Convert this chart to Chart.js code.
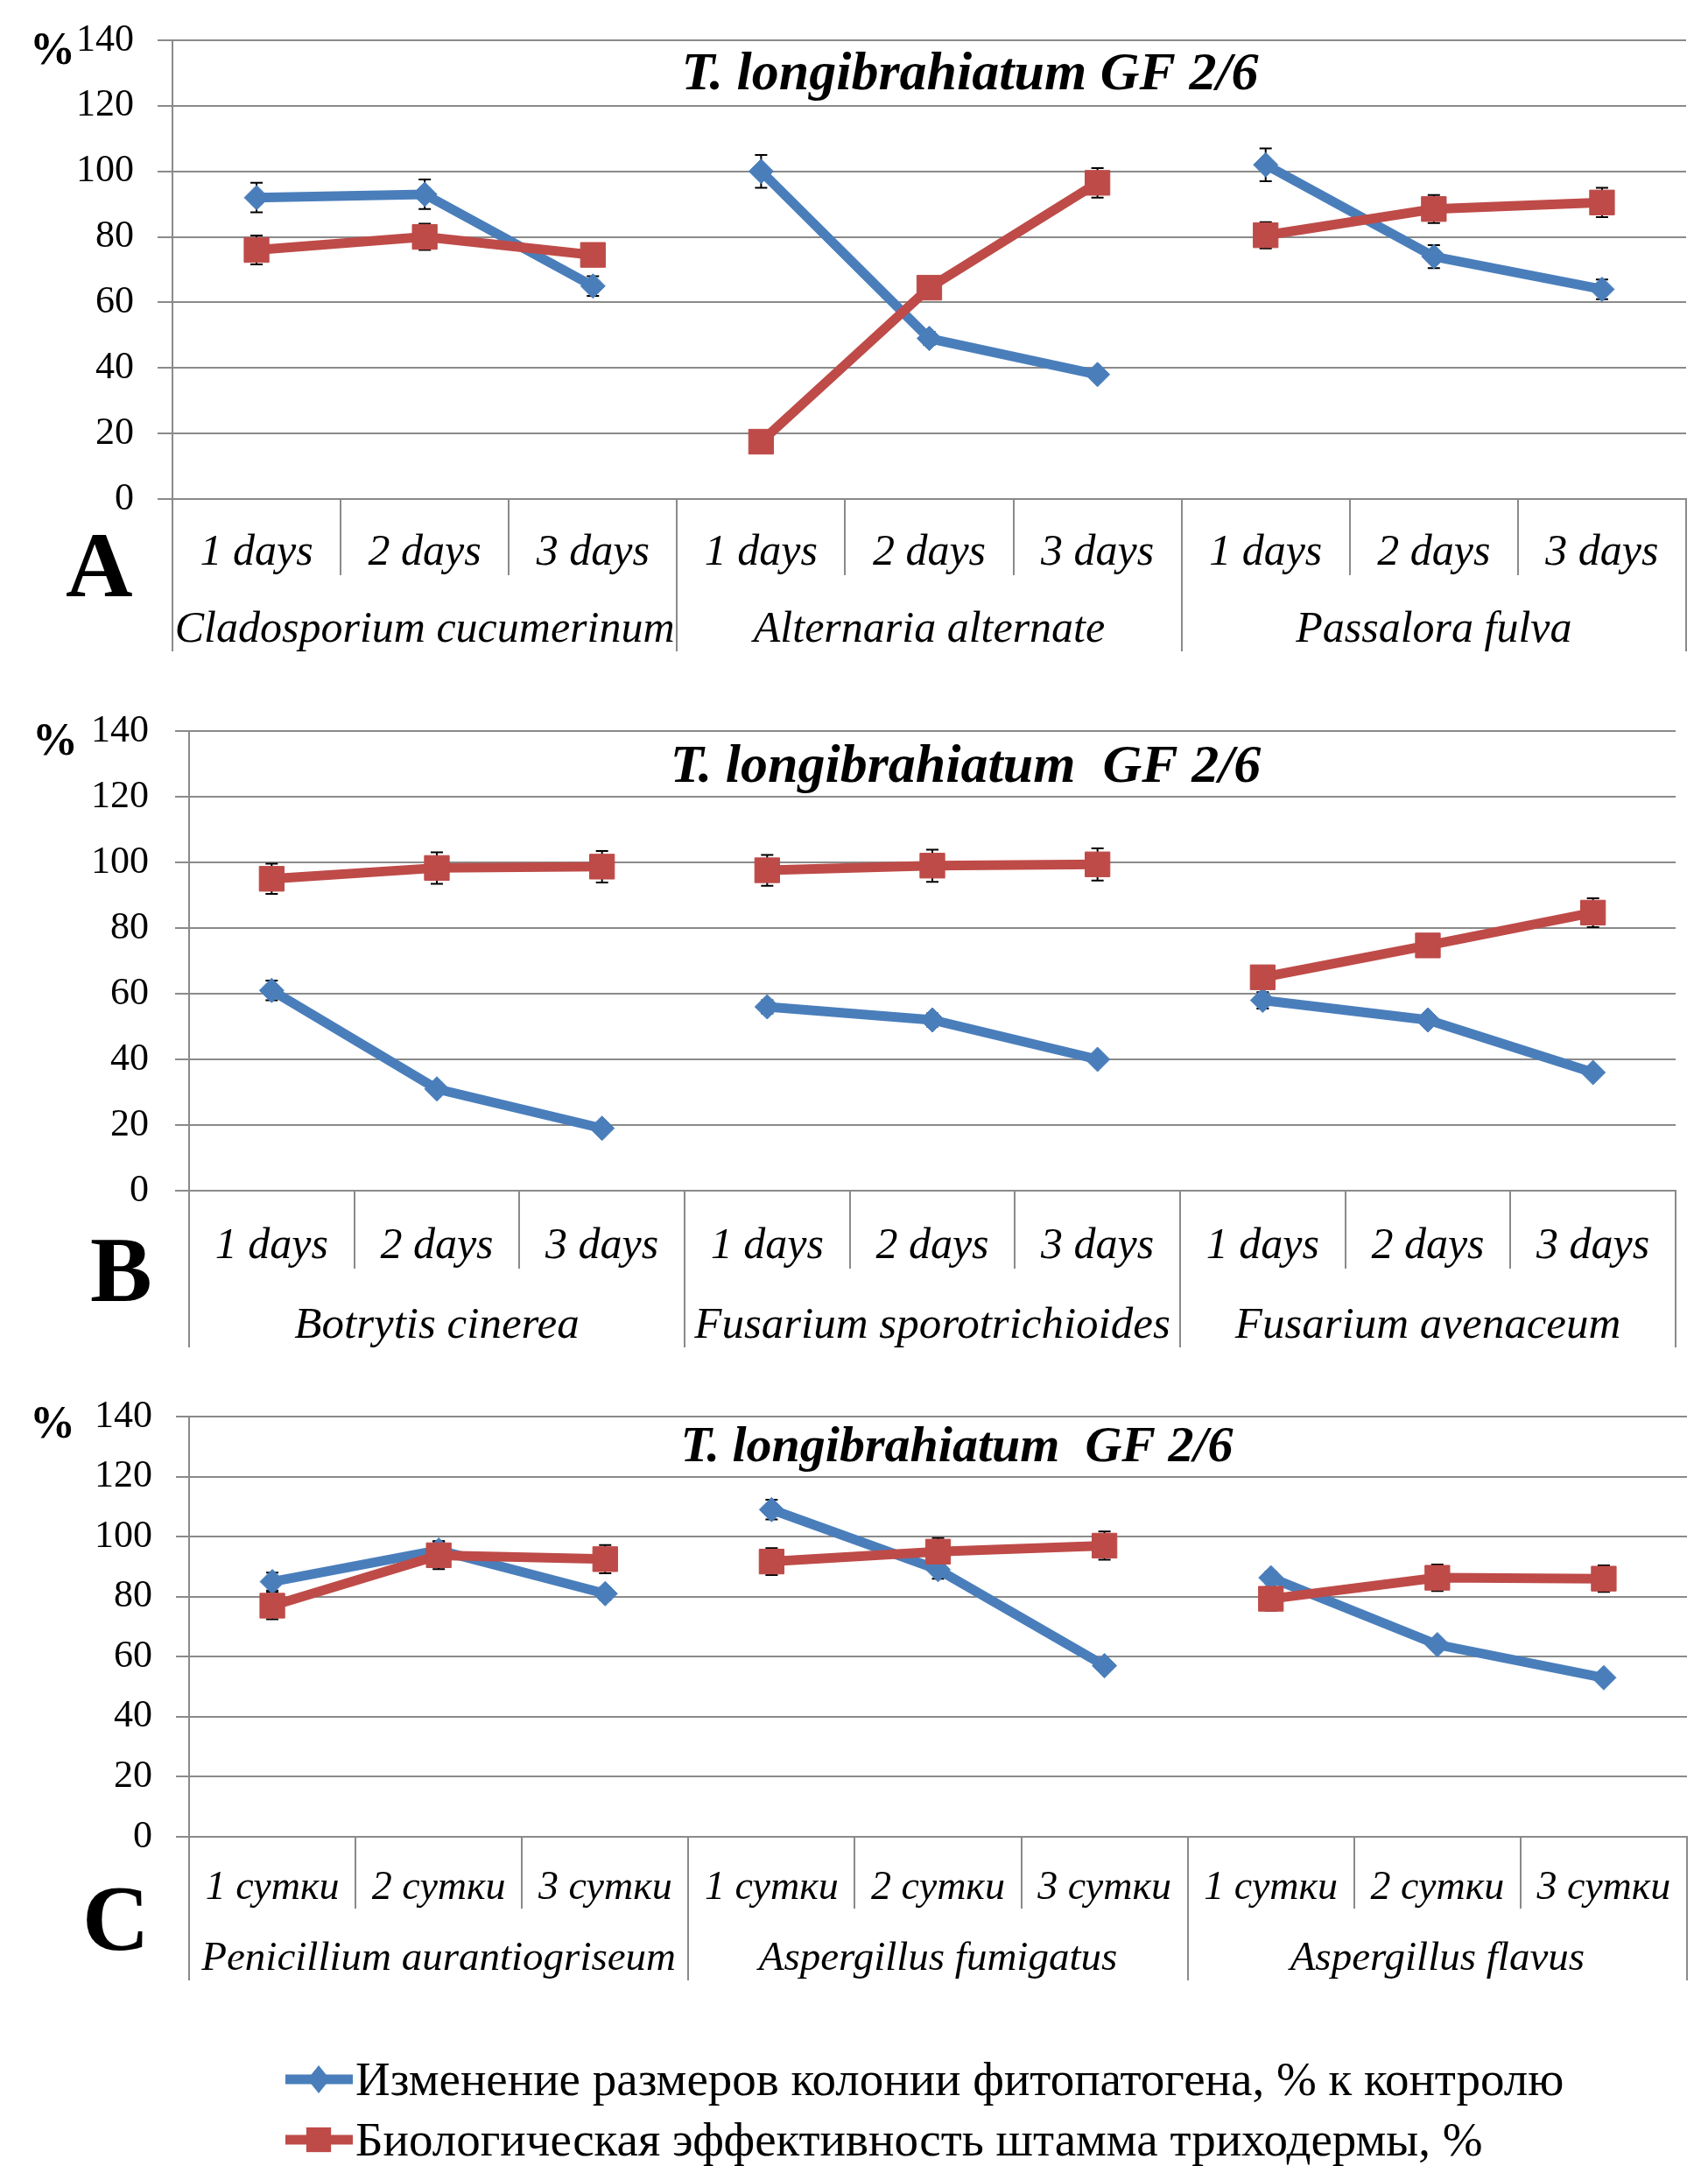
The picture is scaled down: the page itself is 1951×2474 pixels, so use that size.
<!DOCTYPE html>
<html>
<head>
<meta charset="utf-8">
<script src="https://cdn.jsdelivr.net/npm/chart.js@4.4.1/dist/chart.umd.min.js"></script>
<style>
  html, body { margin: 0; padding: 0; background: #fff; }
  body { width: 1951px; height: 2474px; position: relative; overflow: hidden;
         font-family: "Liberation Serif", "Times New Roman", serif; }
  .panel { position: absolute; left: 0; width: 1951px; }
  #legend { position: absolute; left: 326px; top: 2340px; }
  .item { display: flex; align-items: center; height: 69px; font-size: 55px; white-space: nowrap; color: #000; }
  .item canvas { margin-right: 3px; }
</style>
</head>
<body>
<div class="panel" style="top:0;height:770px"><canvas id="chartA"></canvas></div>
<div class="panel" style="top:780px;height:780px"><canvas id="chartB"></canvas></div>
<div class="panel" style="top:1580px;height:700px"><canvas id="chartC"></canvas></div>
<div id="legend"></div>
<script>
// данные
const seriesNames = [
    'Изменение размеров колонии фитопатогена, % к контролю',
    'Биологическая эффективность штамма триходермы, %'
];
const yTicks = [0, 20, 40, 60, 80, 100, 120, 140];

const daysLabels = ['1 days', '2 days', '3 days', '1 days', '2 days', '3 days', '1 days', '2 days', '3 days'];
const sutkiLabels = ['1 сутки', '2 сутки', '3 сутки', '1 сутки', '2 сутки', '3 сутки', '1 сутки', '2 сутки', '3 сутки'];

// A
const groupsA = ['Cladosporium cucumerinum', 'Alternaria alternate', 'Passalora fulva'];
const colonyA = [92, 93, 65, 100, 49, 38, 102, 74, 64];
const colonyErrA = [4.5, 4.5, 3, 5, 2, 1, 5, 3.5, 3];
const effA = [76, 80, 74.5, 17.5, 64.5, 96.5, 80.5, 88.5, 90.5];
const effErrA = [4.4, 4, 3, 2, 3, 4.5, 4, 4.3, 4.5];

// B
const groupsB = ['Botrytis cinerea', 'Fusarium sporotrichioides', 'Fusarium avenaceum'];
const colonyB = [61, 31, 19, 56, 52, 40, 58, 52, 36];
const colonyErrB = [3, 1.5, 1, 2, 2, 1, 2.5, 1.5, 1];
const effB = [95, 98.3, 98.7, 97.6, 99, 99.4, 65, 74.7, 84.7];
const effErrB = [4.6, 4.8, 4.8, 4.7, 4.9, 4.9, 3, 3, 4.4];

// C
const groupsC = ['Penicillium aurantiogriseum', 'Aspergillus fumigatus', 'Aspergillus flavus'];
const colonyC = [85, 95.5, 81, 109, 89, 57, 86.3, 64, 53];
const colonyErrC = [3, 3, 2, 3.3, 3, 1.5, 2, 1.5, 1];
const effC = [77, 93.8, 92.5, 91.7, 95, 97, 79.3, 86.3, 86];
const effErrC = [4.5, 4.6, 4.7, 4.5, 4.5, 4.7, 4, 4.4, 4.4];

const SERIF = '"Liberation Serif", "Times New Roman", serif';
const BLUE = '#4A7EBB';
const RED = '#BE4B48';
const GRID = '#8A8A8A';

Chart.defaults.color = '#000';
Chart.defaults.font.family = SERIF;

// усы погрешностей (рисуем под маркерами)
const errorBars = {
    id: 'errorBars',
    beforeDatasetsDraw(chart) {
        const ctx = chart.ctx;
        const y = chart.scales.y;
        ctx.save();
        ctx.strokeStyle = '#000';
        ctx.lineWidth = 2;
        chart.data.datasets.forEach((ds, i) => {
            chart.getDatasetMeta(i).data.forEach((pt, j) => {
                const e = ds.errors[j];
                if (!e) return;
                const top = y.getPixelForValue(ds.data[j] + e);
                const bot = y.getPixelForValue(ds.data[j] - e);
                ctx.beginPath();
                ctx.moveTo(pt.x, top); ctx.lineTo(pt.x, bot);
                ctx.moveTo(pt.x - 7, top); ctx.lineTo(pt.x + 7, top);
                ctx.moveTo(pt.x - 7, bot); ctx.lineTo(pt.x + 7, bot);
                ctx.stroke();
            });
        });
        ctx.restore();
    }
};

// заголовок, буква панели и знак %
const panelText = {
    id: 'panelText',
    afterDraw(chart, args, o) {
        const ctx = chart.ctx;
        ctx.save();
        ctx.fillStyle = '#000';
        ctx.textBaseline = 'alphabetic';
        ctx.textAlign = 'center';
        ctx.font = `italic bold ${o.titleSize}px ${SERIF}`;
        ctx.fillText(o.title, o.titleX, o.titleY);
        ctx.textAlign = 'left';
        ctx.font = `bold 106px ${SERIF}`;
        ctx.fillText(o.letter, o.letterX, o.letterY);
        ctx.font = `bold 52px ${SERIF}`;
        ctx.fillText('%', o.pctX, o.pctY);
        ctx.restore();
    }
};

function makePanel(id, p) {
    const perGroup = p.labels.length / p.groups.length;
    const gap = c => ((c.p0DataIndex + 1) % perGroup === 0 ? 'rgba(0,0,0,0)' : undefined);
    return new Chart(document.getElementById(id), {
        type: 'line',
        data: {
            labels: p.labels,
            datasets: [{
                label: seriesNames[0],
                data: p.colony,
                errors: p.colonyErr,
                borderColor: BLUE,
                backgroundColor: BLUE,
                borderWidth: 11,
                pointStyle: 'rectRot',
                pointRadius: 14,
                pointHoverRadius: 14,
                pointBorderWidth: 1,
                segment: { borderColor: gap },
                order: 1
            }, {
                label: seriesNames[1],
                data: p.eff,
                errors: p.effErr,
                borderColor: RED,
                backgroundColor: RED,
                borderWidth: 11,
                pointStyle: 'rect',
                pointRadius: 20,
                pointHoverRadius: 20,
                pointBorderWidth: 1,
                segment: { borderColor: gap },
                order: 0
            }]
        },
        options: {
            responsive: true,
            maintainAspectRatio: false,
            animation: false,
            events: [],
            layout: { padding: { left: 0, right: p.right, top: p.top, bottom: p.bottom } },
            plugins: {
                legend: { display: false },
                tooltip: { enabled: false },
                panelText: p.text
            },
            scales: {
                y: {
                    min: yTicks[0],
                    max: yTicks[yTicks.length - 1],
                    ticks: { stepSize: yTicks[1] - yTicks[0], padding: p.yPad, font: { size: 44 } },
                    grid: { color: GRID, lineWidth: 2, tickLength: p.yTick },
                    border: { color: GRID, width: 2 },
                    afterFit: s => { s.width = p.left; s.paddingTop = 0; s.paddingBottom = 0; }
                },
                x: {
                    offset: true,
                    ticks: {
                        autoSkip: false, maxRotation: 0,
                        padding: p.subCenter - p.subSize * 0.6 - p.row1,
                        font: { size: p.subSize, style: 'italic' }
                    },
                    grid: { offset: true, drawOnChartArea: false, color: GRID, lineWidth: 2, tickLength: p.row1 },
                    border: { color: GRID, width: 2 },
                    afterFit: s => { s.height = p.row1; }
                },
                groups: {
                    type: 'category',
                    axis: 'x',
                    position: 'bottom',
                    weight: 1,
                    labels: p.groups,
                    offset: true,
                    ticks: {
                        autoSkip: false, maxRotation: 0,
                        padding: p.groupCenter - p.groupSize * 0.6 - p.row2,
                        font: { size: p.groupSize, style: 'italic' }
                    },
                    grid: { offset: true, drawOnChartArea: false, color: GRID, lineWidth: 2, tickLength: p.row2 },
                    border: { display: false },
                    afterFit: s => { s.height = p.row2; }
                }
            }
        },
        plugins: [errorBars, panelText]
    });
}

makePanel('chartA', {
    labels: daysLabels, groups: groupsA,
    colony: colonyA, colonyErr: colonyErrA, eff: effA, effErr: effErrA,
    left: 197, right: 25, top: 46, bottom: 26, row1: 87, row2: 87,
    yTick: 17, yPad: 27, subCenter: 62, groupCenter: 63, subSize: 50, groupSize: 50,
    text: { title: 'T. longibrahiatum GF 2/6', titleSize: 62, titleX: 1108, titleY: 102,
            letter: 'A', letterX: 75, letterY: 681, pctX: 34, pctY: 73 }
});

makePanel('chartB', {
    labels: daysLabels, groups: groupsB,
    colony: colonyB, colonyErr: colonyErrB, eff: effB, effErr: effErrB,
    left: 216, right: 37, top: 55, bottom: 21, row1: 89, row2: 90,
    yTick: 16, yPad: 30, subCenter: 64, groupCenter: 66, subSize: 50, groupSize: 51,
    text: { title: 'T. longibrahiatum  GF 2/6', titleSize: 62, titleX: 1103, titleY: 113,
            letter: 'B', letterX: 103, letterY: 706, pctX: 37, pctY: 82 }
});

const chartC = makePanel('chartC', {
    labels: sutkiLabels, groups: groupsC,
    colony: colonyC, colonyErr: colonyErrC, eff: effC, effErr: effErrC,
    left: 216, right: 24, top: 38, bottom: 18, row1: 82, row2: 82,
    yTick: 15, yPad: 27, subCenter: 59, groupCenter: 58, subSize: 46, groupSize: 47,
    text: { title: 'T. longibrahiatum  GF 2/6', titleSize: 58, titleX: 1093, titleY: 89,
            letter: 'C', letterX: 94, letterY: 647, pctX: 34, pctY: 62 }
});

// общая легенда под графиками
function buildLegend(chart) {
    const box = document.getElementById('legend');
    chart.data.datasets.forEach(ds => {
        const row = document.createElement('div');
        row.className = 'item';
        const c = document.createElement('canvas');
        c.width = 77; c.height = 44;
        const g = c.getContext('2d');
        g.strokeStyle = ds.borderColor;
        g.lineWidth = ds.borderWidth;
        g.beginPath(); g.moveTo(0, 22); g.lineTo(77, 22); g.stroke();
        g.fillStyle = ds.backgroundColor;
        g.beginPath();
        if (ds.pointStyle === 'rectRot') {
            const r = ds.pointRadius + 2;
            g.moveTo(38 - r * 0.8, 22); g.lineTo(38, 22 - r); g.lineTo(38 + r * 0.8, 22); g.lineTo(38, 22 + r);
        } else {
            const h = ds.pointRadius * Math.SQRT1_2;
            g.rect(38 - h, 22 - h, 2 * h, 2 * h);
        }
        g.closePath(); g.fill();
        row.appendChild(c);
        const t = document.createElement('span');
        t.textContent = ds.label;
        row.appendChild(t);
        box.appendChild(row);
    });
}
buildLegend(chartC);
</script>
</body>
</html>
